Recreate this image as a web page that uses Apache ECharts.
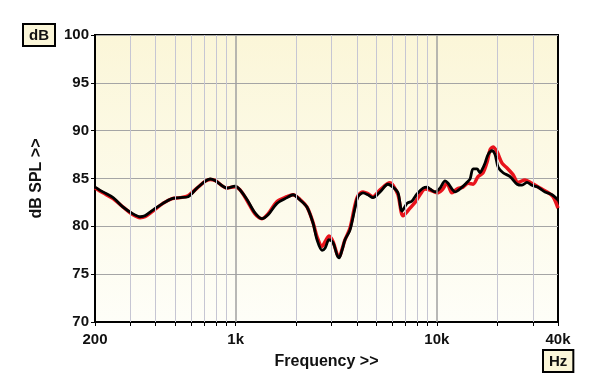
<!DOCTYPE html>
<html>
<head>
<meta charset="utf-8">
<script src="https://cdn.jsdelivr.net/npm/echarts@6/dist/echarts.min.js"></script>
<style>
  html, body { margin: 0; padding: 0; background: #fff; }
  #chart { width: 600px; height: 389px; }
</style>
</head>
<body>
<div id="chart"></div>
<script>
// frequency response, two measurements (Hz, dB SPL)
var freqBlack = [200, 219, 246, 276, 309, 335, 354, 388, 435, 483, 529, 580, 643, 704, 746, 789, 906, 993, 1052, 1139,
  1248, 1352, 1449, 1606, 1800, 1928, 2090, 2264, 2424, 2538, 2688, 2781, 2912, 3049, 3192, 3267, 3379, 3496, 3699, 3918,
  4057, 4295, 4548, 4815, 5219, 5716, 6053, 6410, 6712, 7109, 7527, 7969, 8539, 8941, 9257, 9802, 10373, 10984, 11366, 11892,
  12311, 13341, 14126, 14623, 15137, 15852, 16392, 16758, 17346, 17957, 18804, 19465, 20150, 21339, 23125, 25062, 26506, 28038, 29658, 31701,
  34492, 37340, 40000]
var dbBlack = [84.1, 83.6, 83.0, 82.0, 81.3, 81.0, 81.1, 81.7, 82.4, 82.9, 83.0, 83.1, 84.0, 84.7, 84.95, 84.8, 84.0, 84.2, 83.8, 82.8,
  81.4, 80.8, 81.2, 82.4, 83.0, 83.3, 82.75, 82.0, 80.35, 78.6, 77.5, 77.7, 78.6, 78.3, 77.0, 76.7, 77.5, 78.6, 79.6, 81.9,
  83.1, 83.5, 83.3, 83.0, 83.6, 84.4, 84.1, 83.5, 81.6, 82.4, 82.65, 83.4, 84.0, 84.1, 83.9, 83.6, 84.0, 84.75, 84.5, 83.9,
  83.6, 84.1, 84.6, 84.95, 86.0, 86.0, 85.6, 85.9, 86.6, 87.5, 87.9, 87.5, 86.2, 85.6, 85.2, 84.4, 84.3, 84.6, 84.3, 84.1,
  83.6, 83.3, 82.75]

var freqRed = [200, 219, 246, 276, 309, 335, 354, 388, 435, 483, 529, 580, 643, 704, 746, 789, 906, 993, 1052, 1139,
  1248, 1352, 1449, 1606, 1800, 1928, 2090, 2264, 2424, 2538, 2688, 2800, 2912, 3049, 3192, 3267, 3379, 3496, 3699, 3918,
  4057, 4295, 4548, 4815, 5219, 5851, 6053, 6410, 6790, 7356, 7790, 8247, 8733, 9257, 10020, 10610, 11234, 11892, 12596, 13490,
  14286, 15137, 16018, 16960, 17756, 18377, 19014, 19901, 21079, 22320, 23902, 25313, 27434, 29658, 32565, 35276, 37803, 40000]
var dbRed = [84.0, 83.5, 82.9, 82.0, 81.2, 80.9, 81.0, 81.6, 82.4, 82.9, 83.0, 83.2, 84.0, 84.7, 84.9, 84.8, 84.0, 84.15, 83.8, 82.7,
  81.3, 80.8, 81.3, 82.6, 83.1, 83.3, 82.8, 82.0, 80.4, 78.9, 77.9, 78.5, 79.0, 78.4, 77.1, 76.8, 77.6, 78.6, 79.8, 82.2,
  83.2, 83.6, 83.4, 83.1, 83.8, 84.55, 84.3, 83.3, 81.1, 81.9, 82.5, 83.3, 83.9, 83.8, 83.5, 83.8, 84.5, 83.5, 83.9, 84.1,
  84.5, 84.4, 85.2, 85.6, 86.7, 88.0, 88.3, 87.8, 86.6, 86.1, 85.4, 84.6, 84.85, 84.5, 84.0, 83.6, 83.1, 81.9]

var minorFreqs = [300, 400, 500, 600, 700, 800, 900, 2000, 3000, 4000, 5000, 6000, 7000, 8000, 9000, 20000, 30000]
var majorFreqs = [1000, 10000]
var labelFreqs = [200, 1000, 10000, 40000]
var labelText = ['200', '1k', '10k', '40k']
var yTicks = [70, 75, 80, 85, 90, 95, 100]

var font = 'Liberation Sans, Arial, sans-serif'

function pairs(xs, ys) {
  var out = []
  for (var i = 0; i < xs.length; i++) {
    out.push([xs[i], ys[i]])
  }
  return out
}

var tickFreqs = labelFreqs.concat(minorFreqs).sort(function(a, b) { return a - b })

var gridLines = []
minorFreqs.forEach(function(f) {
  gridLines.push({ xAxis: f, lineStyle: { color: '#c6c6d3', width: 1, type: 'solid' } })
})
majorFreqs.forEach(function(f) {
  gridLines.push({ xAxis: f, lineStyle: { color: '#a0a0a0', width: 1.5, type: 'solid' } })
})

var chart = echarts.init(document.getElementById('chart'))
chart.setOption({
  animation: false,
  backgroundColor: '#ffffff',
  grid: {
    left: 95,
    right: 42,
    top: 35,
    bottom: 67,
    show: true,
    borderColor: '#000',
    borderWidth: 2,
    backgroundColor: {
      type: 'linear', x: 0, y: 0, x2: 0, y2: 1,
      colorStops: [
        { offset: 0, color: '#fbf6d8' },
        { offset: 1, color: '#fefef8' }
      ]
    }
  },
  xAxis: {
    type: 'log',
    logBase: 10,
    min: 200,
    max: 40000,
    name: 'Frequency >>',
    nameLocation: 'middle',
    nameGap: 32,
    nameTextStyle: { fontFamily: font, fontWeight: 'bold', fontSize: 16, color: '#111' },
    axisLine: { lineStyle: { color: '#000', width: 2 } },
    axisTick: { show: true, length: 4, lineStyle: { color: '#000' }, customValues: tickFreqs },
    axisLabel: {
      customValues: labelFreqs,
      margin: 10,
      fontFamily: font,
      fontWeight: 'bold',
      fontSize: 15,
      color: '#111',
      formatter: function(v) {
        var i = labelFreqs.indexOf(Math.round(v))
        return i >= 0 ? labelText[i] : ''
      }
    },
    splitLine: { show: false }
  },
  yAxis: {
    type: 'value',
    min: 70,
    max: 100,
    interval: 5,
    name: 'dB SPL >>',
    nameLocation: 'middle',
    nameGap: 50,
    nameTextStyle: { fontFamily: font, fontWeight: 'bold', fontSize: 16, color: '#111' },
    axisLine: { show: true, lineStyle: { color: '#000', width: 2 } },
    axisTick: { show: true, length: 4, lineStyle: { color: '#000' } },
    axisLabel: {
      margin: 6,
      fontFamily: font,
      fontWeight: 'bold',
      fontSize: 15,
      color: '#111',
      formatter: function(v) { return yTicks.indexOf(v) >= 0 ? String(v) : '' }
    },
    splitLine: { show: true, lineStyle: { color: '#a5a5a5', width: 1 } }
  },
  graphic: [
    {
      type: 'text',
      left: 22,
      top: 23,
      style: {
        text: 'dB',
        font: 'bold 15px ' + font,
        fill: '#111',
        backgroundColor: '#fbf6d8',
        borderColor: '#000',
        borderWidth: 2,
        padding: [3, 5, 2, 5]
      }
    },
    {
      type: 'text',
      left: 542,
      top: 349,
      style: {
        text: 'Hz',
        font: 'bold 15px ' + font,
        fill: '#111',
        backgroundColor: '#fbf6d8',
        borderColor: '#000',
        borderWidth: 2,
        padding: [3, 5, 2, 5]
      }
    }
  ],
  series: [
    {
      name: 'grid',
      type: 'line',
      data: [],
      silent: true,
      markLine: {
        silent: true,
        symbol: 'none',
        label: { show: false },
        animation: false,
        data: gridLines
      }
    },
    {
      name: 'red',
      type: 'line',
      data: pairs(freqRed, dbRed),
      smooth: 0.3,
      showSymbol: false,
      lineStyle: { color: '#e8141c', width: 3.5 },
      z: 3
    },
    {
      name: 'black',
      type: 'line',
      data: pairs(freqBlack, dbBlack),
      smooth: 0.3,
      showSymbol: false,
      lineStyle: { color: '#000000', width: 2.8 },
      z: 4
    }
  ]
})
</script>
</body>
</html>
